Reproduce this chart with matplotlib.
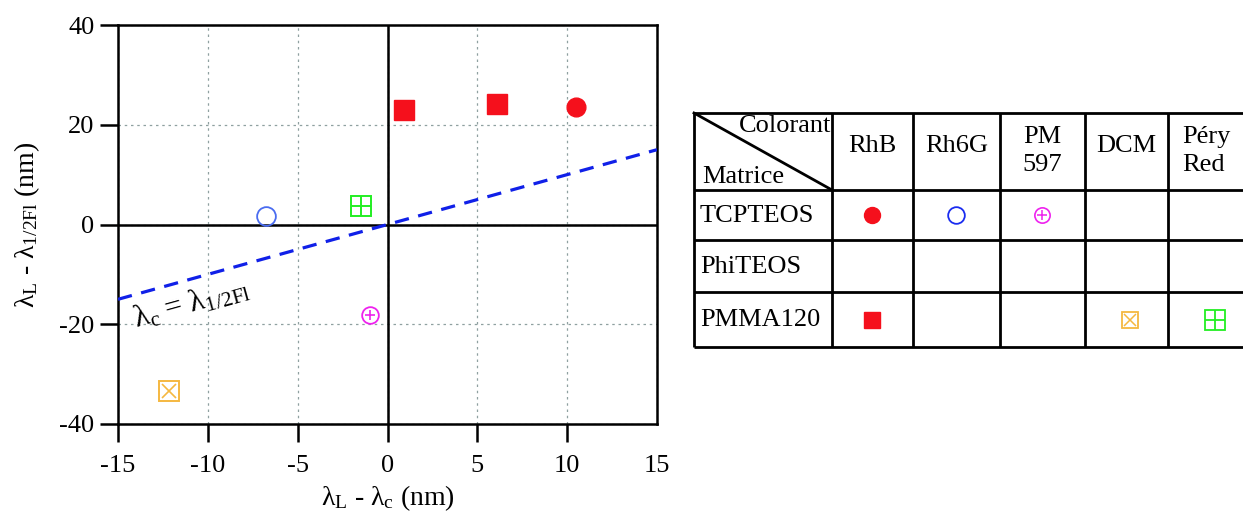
import matplotlib
matplotlib.use("Agg")
import matplotlib.pyplot as plt

plt.rcParams['font.family'] = ['Liberation Serif', 'DejaVu Serif']
plt.rcParams['mathtext.fontset'] = 'custom'
plt.rcParams['mathtext.rm'] = 'Liberation Serif'
plt.rcParams['mathtext.it'] = 'Liberation Serif'

# ---- data ----
rhb_pmma_x = [0.9, 6.1]
rhb_pmma_y = [22.9, 24.1]
rhb_tcp_x = [10.5]
rhb_tcp_y = [23.5]
rh6g_tcp_x = [-6.75]
rh6g_tcp_y = [1.7]
pery_pmma_x = [-1.5]
pery_pmma_y = [3.7]
pm597_tcp_x = [-1.0]
pm597_tcp_y = [-18.1]
dcm_pmma_x = [-12.15]
dcm_pmma_y = [-33.4]
line_x = [-15, 15]
line_y = [-15, 15]
xticks = [-15, -10, -5, 0, 5, 10, 15]
yticks = [-40, -20, 0, 20, 40]

table_cols = ['RhB', 'Rh6G', 'PM\n597', 'DCM', 'Péry\nRed']
table_rows = ['TCPTEOS', 'PhiTEOS', 'PMMA120']

RED = '#f5101c'
BLUE_P = '#4a6cf0'
BLUE_T = '#1a2cf0'
GREEN = '#22ee22'
MAG = '#ee22ee'
ORANGE = '#f5b840'

W, H = 1243, 519
fig = plt.figure(figsize=(W / 100, H / 100), dpi=100)

# ---- main plot ----
L, R, T, B = 118, 657, 25, 424
ax = fig.add_axes([L / W, 1 - B / H, (R - L) / W, (B - T) / H])
ax.set_xlim(-15, 15)
ax.set_ylim(-40, 40)
ax.set_xticks(xticks)
ax.set_yticks(yticks)
ax.set_xticklabels([str(v) for v in xticks])
ax.set_yticklabels([str(v) for v in yticks])
ax.tick_params(direction='out', length=13, width=1.8, labelsize=19)
ax.tick_params(axis='x', pad=9)
ax.tick_params(axis='y', pad=4)
ax.xaxis.get_major_ticks()[-1].tick1line.set_visible(False)
for s in ax.spines.values():
    s.set_linewidth(1.8)
ax.grid(True, color='#8fa0a0', linestyle=(0, (2, 3)), linewidth=0.9)
ax.axhline(0, color='black', lw=1.8, zorder=2)
ax.axvline(0, color='black', lw=1.8, zorder=2)

ax.plot(line_x, line_y, color='#1020e8', lw=2.3, ls=(0, (4.5, 3)), zorder=3)

ax.plot(rhb_pmma_x, rhb_pmma_y, 's', color=RED, ms=14.5, mec=RED, zorder=4)
ax.plot(rhb_tcp_x, rhb_tcp_y, 'o', color=RED, ms=13.5, mec=RED, zorder=4)
ax.plot(rh6g_tcp_x, rh6g_tcp_y, 'o', mfc='none', mec=BLUE_P, ms=13.5, mew=1.3, zorder=4)
ax.plot(pery_pmma_x, pery_pmma_y, 's', mfc='none', mec=GREEN, ms=14.5, mew=1.4, zorder=4)
ax.plot(pery_pmma_x, pery_pmma_y, '+', mec=GREEN, ms=14.5, mew=1.4, zorder=4)
ax.plot(pm597_tcp_x, pm597_tcp_y, 'o', mfc='none', mec=MAG, ms=12, mew=1.3, zorder=4)
ax.plot(pm597_tcp_x, pm597_tcp_y, '+', mec=MAG, ms=7.5, mew=1.2, zorder=4)
ax.plot(dcm_pmma_x, dcm_pmma_y, 's', mfc='none', mec=ORANGE, ms=14.5, mew=1.4, zorder=4)
ax.plot(dcm_pmma_x, dcm_pmma_y, 'x', mec=ORANGE, ms=10.5, mew=1.2, zorder=4)

ax.text(-10.9, -16.0, r'$\mathrm{λ_{c}}$ = $\mathrm{λ_{1/2Fl}}$', fontsize=22,
        rotation=15.5, ha='center', va='center', rotation_mode='anchor')

ax.set_xlabel(r'$\mathrm{λ_{L}}$ - $\mathrm{λ_{c}}$ (nm)', fontsize=20, labelpad=5)
ax.set_ylabel(r'$\mathrm{λ_{L}}$ - $\mathrm{λ_{1/2Fl}}$ (nm)', fontsize=20, labelpad=12)

# ---- table ----
tax = fig.add_axes([0, 0, 1, 1])
tax.set_xlim(0, W)
tax.set_ylim(H, 0)
tax.axis('off')

col_edges = [694, 832, 913, 1000, 1085, 1168, 1243]
row_edges = [113, 190, 240, 292, 347]
lw = 2.0
for y in row_edges:
    tax.plot([col_edges[0], W], [y, y], color='black', lw=lw, solid_capstyle='butt')
for x in col_edges[:-1]:
    tax.plot([x, x], [row_edges[0], row_edges[-1]], color='black', lw=lw, solid_capstyle='butt')
tax.plot([col_edges[0], col_edges[1]], [row_edges[0], row_edges[1]], color='black', lw=lw)


def cc(i):
    return (col_edges[i + 1] + col_edges[i]) / 2


def rc(j):
    return (row_edges[j + 1] + row_edges[j]) / 2


fs = 19
tax.text(col_edges[1] - 1, row_edges[0] + 2, 'Colorant', fontsize=fs, ha='right', va='top')
tax.text(col_edges[0] + 8, row_edges[1] - 2, 'Matrice', fontsize=fs, ha='left', va='bottom')
for i, c in enumerate(table_cols):
    k = i + 1
    if i == len(table_cols) - 1:
        tax.text(col_edges[k] + 14, 151, c, fontsize=fs, ha='left', va='center', linespacing=1.4)
    else:
        tax.text(cc(k), 151 if '\n' in c else 146, c, fontsize=fs, ha='center', va='center',
                 linespacing=1.4)
for j, r in enumerate(table_rows):
    tax.text(col_edges[0] + 6, rc(j + 1) + 1, r, fontsize=fs, ha='left', va='center')

tax.plot([cc(1)], [rc(1)], 'o', color=RED, ms=11.5)
tax.plot([cc(2)], [rc(1)], 'o', mfc='none', mec=BLUE_T, ms=12, mew=1.3)
tax.plot([cc(3)], [rc(1)], 'o', mfc='none', mec=MAG, ms=11, mew=1.2)
tax.plot([cc(3)], [rc(1)], '+', mec=MAG, ms=6.5, mew=1.1)
tax.plot([cc(1)], [rc(3)], 's', color=RED, ms=12)
tax.plot([cc(4) + 4], [rc(3)], 's', mfc='none', mec=ORANGE, ms=12, mew=1.3)
tax.plot([cc(4) + 4], [rc(3)], 'x', mec=ORANGE, ms=9, mew=1.1)
tax.plot([cc(5) + 10], [rc(3)], 's', mfc='none', mec=GREEN, ms=14, mew=1.3)
tax.plot([cc(5) + 10], [rc(3)], '+', mec=GREEN, ms=14, mew=1.3)

fig.savefig('out.png', dpi=100)
